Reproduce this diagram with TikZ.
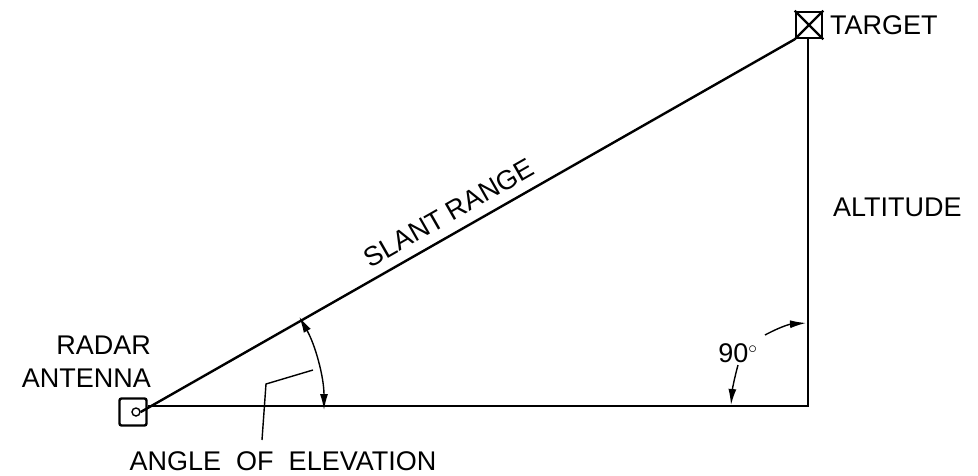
\documentclass[tikz,border=0pt]{standalone}
\usepackage{fontspec}
\setmainfont{Liberation Sans}
\usetikzlibrary{arrows.meta}
\begin{document}
\begin{tikzpicture}[x=1pt,y=-1pt,line width=2.4pt,
  lbl/.style={font=\fontsize{27}{30}\selectfont,inner sep=0pt},
  thin/.style={line width=1.4pt},
  tip/.style={Latex[length=16pt,width=8pt]},
  arr/.style={-{Latex[length=16pt,width=8pt]}}]
\useasboundingbox (0,0) rectangle (978,475);
\node[draw,line width=2.4pt,minimum size=27pt,inner sep=0pt,rounded corners=2pt] (ant) at (133,412) {};
\node[draw,circle,thin,minimum size=8pt,inner sep=0pt] (antc) at (136,412) {};
\node[draw,line width=2.6pt,minimum size=26pt,inner sep=0pt] (tgt) at (809,25) {};
\draw[line width=2.2pt] (tgt.south west) -- (tgt.north east) (tgt.north west) -- (tgt.south east);
\coordinate (corner) at (808,406);
\draw (antc.east) -- (tgt.south west);
\draw (ant.east |- corner) -- (corner) -- (tgt.south -| corner);
% elevation angle
\draw[thin,{Latex[length=16pt,width=8pt]}-{Latex[length=16pt,width=8pt]}] ([shift={(-29.7:188)}]136,410) arc[start angle=-29.7,end angle=0,radius=188];
\draw[thin] (262,440) -- (266,384) -- (313,370);
% 90 deg
\draw[thin,arr] (765,335) to[bend left=12] (806,323);
\draw[thin,arr] (738,365) to[bend right=5] (731,405);
\node[lbl] (ninety) at (738,353) {90$^{\circ}$};
\node[lbl,anchor=west] (target) at (829,25) {TARGET};
\node[lbl,anchor=west] (alt) at (832,207) {ALTITUDE};
\node[lbl,anchor=east] (radar) at (152,345) {RADAR};
\node[lbl,anchor=east] (antenna) at (152,378) {ANTENNA};
\node[lbl] (aoe) at (283,461) {ANGLE\ \ OF\ \ ELEVATION};
\node[lbl,rotate=29.7] (slant) at (449,213) {SLANT RANGE};
\end{tikzpicture}
\end{document}
